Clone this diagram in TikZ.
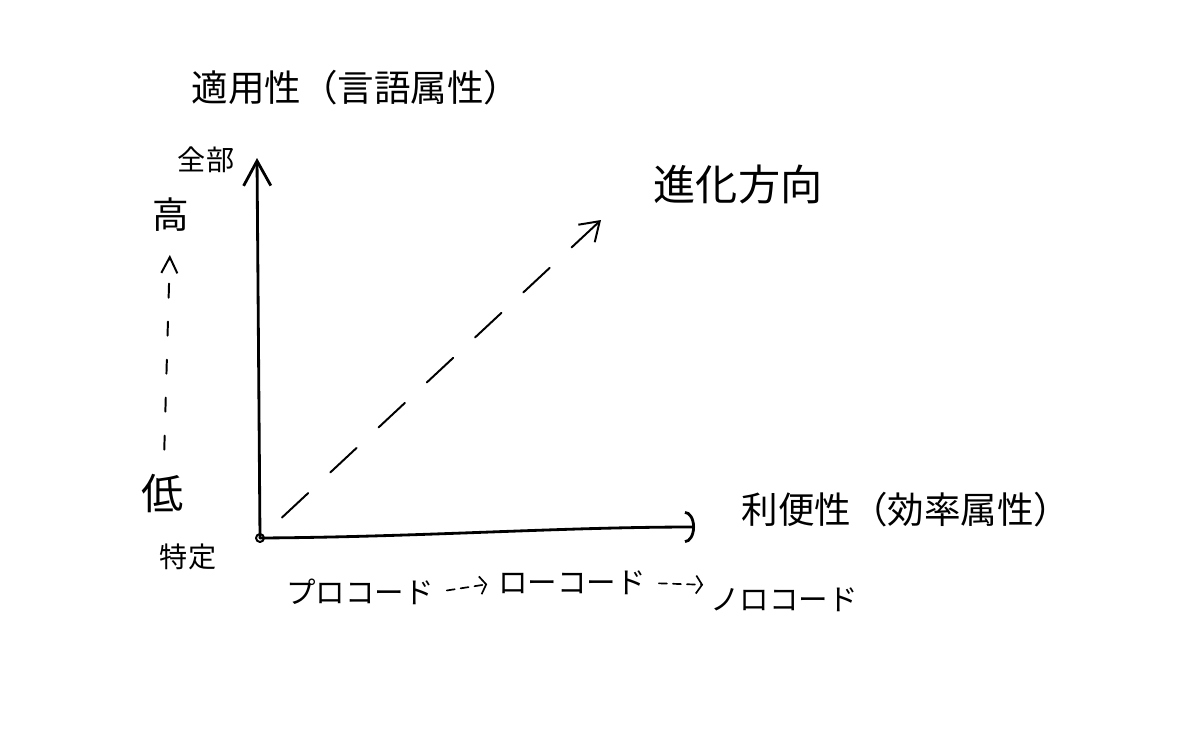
\documentclass[tikz,border=0pt]{standalone}
\usepackage{fontspec}
\setmainfont{Noto Sans CJK JP}
\usetikzlibrary{arrows.meta}

\begin{document}
\begin{tikzpicture}[
    x=0.025cm, y=-0.025cm,
    line cap=round, line join=round,
    lbl/.style={inner sep=2pt, font=\fontsize{26}{30}\selectfont},
    small/.style={inner sep=2pt, font=\fontsize{20}{24}\selectfont},
    code/.style={inner sep=2pt, font=\fontsize{21}{25}\selectfont},
    axis/.style={line width=2pt},
    yarr/.style={-{Straight Barb[length=0.62cm,width=0.68cm]}},
    xarr/.style={-{Arc Barb[length=0.25cm,width=0.8cm]}},
    evo/.style={line width=1.4pt, dash pattern=on 0.9cm off 0.75cm,
                -{Straight Barb[length=0.45cm,width=0.6cm]}},
    lvl/.style={line width=1.4pt, dash pattern=on 0.35cm off 0.6cm,
                -{Straight Barb[length=0.4cm,width=0.4cm]}},
    step arr/.style={line width=1.2pt, dash pattern=on 0.2cm off 0.15cm,
                -{Straight Barb[length=0.15cm,width=0.45cm]}}
  ]
    \useasboundingbox (0,0) rectangle (1196,750);
    \fill[white] (0,0) rectangle (1196,750);
    % axes
    \coordinate (O) at (260,538);
    \coordinate (ytop) at (257,158);
    \coordinate (xend) at (695,527);
    \draw[axis, yarr] (O) -- (ytop);
    \draw[axis, xarr] (O) .. controls (420,537) and (560,527) .. (xend);
    \draw[line width=1.4pt] (O) circle[radius=0.1cm];
    % axis titles
    \node[lbl] (ytitle) at (356,88) {適用性（言語属性）};
    \node[lbl] (xtitle) at (906,510) {利便性（効率属性）};
    \node[small] (all) at (206,160) {全部};
    \node[small] (spec) at (188,557) {特定};
    \node[lbl] (high) at (171,215) {高};
    \node[lbl, font=\fontsize{30}{34}\selectfont] (low) at (163,494) {低};
    \draw[lvl, shorten <=0.55cm, shorten >=0.5cm] (low) -- (high);
    % evolution
    \node[lbl, font=\fontsize{30}{34}\selectfont] (evotxt) at (738,184) {進化方向};
    \coordinate (evotip) at (601,220);
    \draw[evo, shorten <=0.75cm] (O) -- (evotip);
    % code levels
    \node[code] (pro) at (360,592) {プロコード};
    \node[code] (lowc) at (572,583) {ローコード};
    \node[code] (noc) at (784,600) {ノロコード};
    \draw[step arr, shorten <=0.25cm, shorten >=0.2cm] (pro.east) -- (lowc.west);
    \draw[step arr, shorten <=0.25cm, shorten >=0.1cm] (lowc.east) -- (noc.north west);
  \end{tikzpicture}
\end{document}
